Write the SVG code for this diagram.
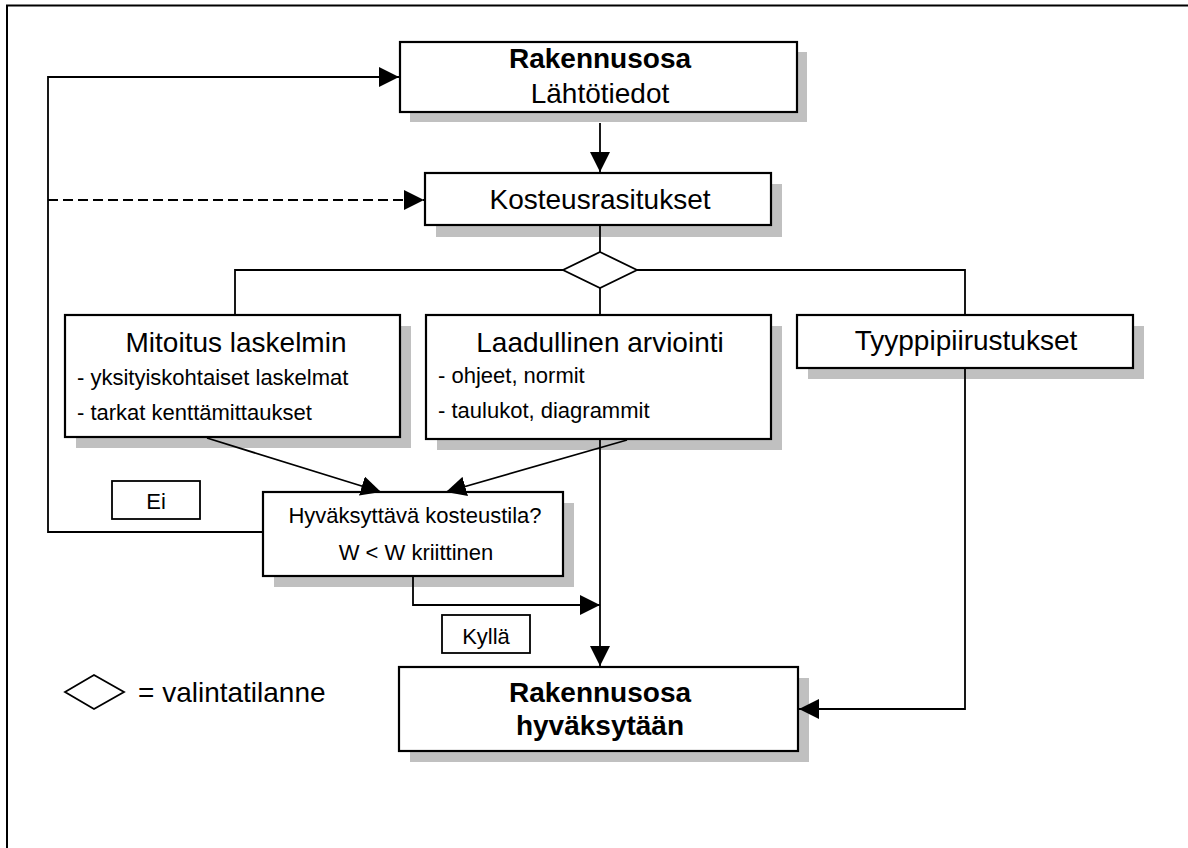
<svg xmlns="http://www.w3.org/2000/svg" width="1188" height="848" viewBox="0 0 1188 848">
<style>
text{font-family:"Liberation Sans",Arial,Helvetica,sans-serif;fill:#000}
.big{font-size:28px}
.bold{font-weight:bold}
.sm{font-size:22px}
.lg{font-size:28px}
.box{fill:#fff;stroke:#000;stroke-width:2.2}
.lbl{fill:#fff;stroke:#000;stroke-width:1.8}
.sh{fill:#c0c0c0}
.ln{fill:none;stroke:#000;stroke-width:1.8}
.arr{marker-end:url(#ah)}
.dash{stroke-dasharray:10 5}
</style>
<defs>
<marker id="ah" markerUnits="userSpaceOnUse" markerWidth="20" markerHeight="20" refX="20" refY="10" orient="auto" viewBox="0 0 20 20">
<path d="M0,0 L20,10 L0,20 z" fill="#000"/>
</marker>
</defs>
<rect width="1188" height="848" fill="#fff"/>
<g id="frame">
<path d="M7,848 V5.5 H1188" fill="none" stroke="#000" stroke-width="2"/>
</g>
<g id="lahtotiedot">
<rect class="sh" x="410" y="52" width="397" height="70"/>
<rect class="box" x="400" y="42" width="397" height="70"/>
<text class="big bold" x="600" y="68" text-anchor="middle">Rakennusosa</text>
<text class="big" x="600" y="103" text-anchor="middle">Lähtötiedot</text>
</g>
<g id="kosteusrasitukset">
<rect class="sh" x="436" y="184" width="346" height="53"/>
<rect class="box" x="425" y="173" width="346" height="52"/>
<text class="big" x="600" y="209" text-anchor="middle">Kosteusrasitukset</text>
</g>
<g id="mitoitus">
<rect class="sh" x="76" y="326" width="335" height="122"/>
<rect class="box" x="65" y="315" width="335" height="122"/>
<text class="big" x="236" y="352" text-anchor="middle">Mitoitus laskelmin</text>
<text class="sm" x="77" y="385">- yksityiskohtaiset laskelmat</text>
<text class="sm" x="77" y="420">- tarkat kenttämittaukset</text>
</g>
<g id="laadullinen">
<rect class="sh" x="437" y="326" width="345" height="124"/>
<rect class="box" x="426" y="315" width="345" height="124"/>
<text class="big" x="600" y="352" text-anchor="middle">Laadullinen arviointi</text>
<text class="sm" x="438" y="383">- ohjeet, normit</text>
<text class="sm" x="438" y="418">- taulukot, diagrammit</text>
</g>
<g id="tyyppipiirustukset">
<rect class="sh" x="808" y="326" width="336" height="53"/>
<rect class="box" x="797" y="315" width="336" height="53"/>
<text class="big" x="966" y="350" text-anchor="middle">Tyyppipiirustukset</text>
</g>
<g id="hyvaksyttava">
<rect class="sh" x="274" y="503" width="300" height="84"/>
<rect class="box" x="263" y="492" width="300" height="84"/>
<text class="sm" x="415" y="523" text-anchor="middle">Hyväksyttävä kosteustila?</text>
<text class="sm" x="416" y="560" text-anchor="middle">W &lt; W kriittinen</text>
</g>
<g id="ei">
<rect class="lbl" x="112" y="481" width="88" height="38"/>
<text class="sm" x="156" y="509" text-anchor="middle">Ei</text>
</g>
<g id="kylla">
<rect class="lbl" x="442" y="615" width="88" height="38"/>
<text class="sm" x="486" y="644" text-anchor="middle">Kyllä</text>
</g>
<g id="hyvaksytaan">
<rect class="sh" x="410" y="678" width="399" height="84"/>
<rect class="box" x="399" y="667" width="399" height="84"/>
<text class="big bold" x="600" y="702" text-anchor="middle">Rakennusosa</text>
<text class="big bold" x="600" y="735" text-anchor="middle">hyväksytään</text>
</g>
<g id="connectors">
<path class="ln arr" d="M600,123 V172"/>
<path class="ln" d="M600,226 V270 M235,314 V270 H965 V314 M600,270 V314"/>
<path class="ln arr" d="M262,532 H48 V77 H399"/>
<path class="ln arr dash" d="M48,200 H424"/>
<path class="ln arr" d="M207,438 L381,492"/>
<path class="ln arr" d="M627,440 L446,492"/>
<path class="ln arr" d="M413,577 V605 H600"/>
<path class="ln arr" d="M600,440 V666"/>
<path class="ln arr" d="M965,369 V709 H799"/>
</g>
<g id="diamond">
<polygon points="600,252 637,270 600,288 563,270" fill="#fff" stroke="#000" stroke-width="1.8"/>
</g>
<g id="legend">
<polygon points="65,692 94,675 124,692 94,709" fill="none" stroke="#000" stroke-width="1.8"/>
<text class="lg" x="138" y="702">= valintatilanne</text>
</g>
</svg>
